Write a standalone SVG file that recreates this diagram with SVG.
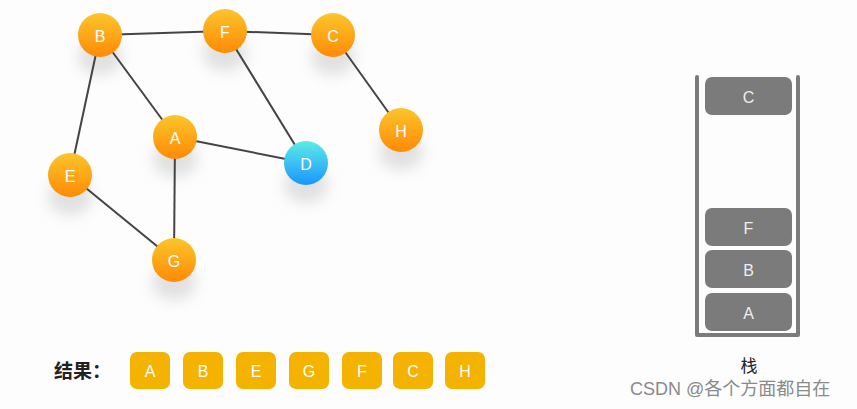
<svg xmlns="http://www.w3.org/2000/svg" width="857" height="409" viewBox="0 0 857 409">
<style>
.edge{stroke:#444;stroke-width:2;fill:none}
.nl{font-family:"Liberation Sans",Arial,sans-serif;font-size:16px;fill:#fff;text-anchor:middle;dominant-baseline:central}
.sb{fill:#7b7b7b}
.st{font-family:"Liberation Sans",Arial,sans-serif;font-size:16px;fill:#eee;text-anchor:middle;dominant-baseline:central}
.rb{fill:#F4B300}
.rt{font-family:"Liberation Sans",Arial,sans-serif;font-size:16px;fill:#fff;text-anchor:middle;dominant-baseline:central}
.cjk{font-family:"Noto Sans CJK SC",sans-serif}
</style>
<defs>
<linearGradient id="og" x1="0" y1="0" x2="0" y2="1">
<stop offset="0" stop-color="#FBC52B"/>
<stop offset="1" stop-color="#FF8A05"/>
</linearGradient>
<linearGradient id="bg" x1="0" y1="0" x2="0" y2="1">
<stop offset="0" stop-color="#5DEBE6"/>
<stop offset="1" stop-color="#1A96FF"/>
</linearGradient>
<filter id="sh" x="-100%" y="-100%" width="300%" height="300%">
<feGaussianBlur stdDeviation="7"/>
</filter>
<g id="shadow"><ellipse cx="0" cy="22" rx="22" ry="18" fill="#c4c4c4" opacity="0.5" filter="url(#sh)"/></g>
</defs>
<rect width="857" height="409" fill="#FDFDFD"/>
<g id="shadows">
<use href="#shadow" x="100" y="35"/>
<use href="#shadow" x="225" y="31"/>
<use href="#shadow" x="333" y="35"/>
<use href="#shadow" x="401" y="130"/>
<use href="#shadow" x="175" y="137"/>
<use href="#shadow" x="306" y="163"/>
<use href="#shadow" x="70" y="175"/>
<use href="#shadow" x="174" y="260"/>
</g>
<g id="connectors">
<line class="edge" x1="100" y1="35" x2="225" y2="31"/>
<line class="edge" x1="225" y1="31" x2="333" y2="35"/>
<line class="edge" x1="333" y1="35" x2="401" y2="130"/>
<line class="edge" x1="100" y1="35" x2="175" y2="137"/>
<line class="edge" x1="100" y1="35" x2="70" y2="175"/>
<line class="edge" x1="225" y1="31" x2="306" y2="163"/>
<line class="edge" x1="175" y1="137" x2="306" y2="163"/>
<line class="edge" x1="175" y1="137" x2="174" y2="260"/>
<line class="edge" x1="70" y1="175" x2="174" y2="260"/>
</g>
<g id="node-B"><circle cx="100" cy="35" r="22" fill="url(#og)"/><text class="nl" x="100" y="36">B</text></g>
<g id="node-F"><circle cx="225" cy="31" r="22" fill="url(#og)"/><text class="nl" x="225" y="32">F</text></g>
<g id="node-C"><circle cx="333" cy="35" r="22" fill="url(#og)"/><text class="nl" x="333" y="36">C</text></g>
<g id="node-H"><circle cx="401" cy="130" r="22" fill="url(#og)"/><text class="nl" x="401" y="131">H</text></g>
<g id="node-A"><circle cx="175" cy="137" r="22" fill="url(#og)"/><text class="nl" x="175" y="138">A</text></g>
<g id="node-D"><circle cx="306" cy="163" r="22" fill="url(#bg)"/><text class="nl" x="306" y="164">D</text></g>
<g id="node-E"><circle cx="70" cy="175" r="22" fill="url(#og)"/><text class="nl" x="70" y="176">E</text></g>
<g id="node-G"><circle cx="174" cy="260" r="22" fill="url(#og)"/><text class="nl" x="174" y="261">G</text></g>
<g id="stack">
<path d="M697 77 V335 H798 V77" fill="none" stroke="#7b7b7b" stroke-width="4" stroke-linecap="round" stroke-linejoin="round"/>
<rect class="sb" x="705" y="77" width="87" height="38" rx="7"/><text class="st" x="748.5" y="97">C</text>
<rect class="sb" x="705" y="208" width="87" height="38" rx="7"/><text class="st" x="748.5" y="228">F</text>
<rect class="sb" x="705" y="250" width="87" height="38" rx="7"/><text class="st" x="748.5" y="270">B</text>
<rect class="sb" x="705" y="293" width="87" height="38" rx="7"/><text class="st" x="748.5" y="313">A</text>
<text class="cjk" x="749" y="372" font-size="17" fill="#222" text-anchor="middle">栈</text>
</g>
<g id="result">
<text class="cjk" x="54" y="378" font-size="19" font-weight="bold" fill="#222">结果：</text>
<rect class="rb" x="130" y="352" width="40" height="37" rx="7"/><text class="rt" x="150" y="371">A</text>
<rect class="rb" x="183" y="352" width="40" height="37" rx="7"/><text class="rt" x="203" y="371">B</text>
<rect class="rb" x="236" y="352" width="40" height="37" rx="7"/><text class="rt" x="256" y="371">E</text>
<rect class="rb" x="289" y="352" width="40" height="37" rx="7"/><text class="rt" x="309" y="371">G</text>
<rect class="rb" x="342" y="352" width="40" height="37" rx="7"/><text class="rt" x="362" y="371">F</text>
<rect class="rb" x="393" y="352" width="40" height="37" rx="7"/><text class="rt" x="413" y="371">C</text>
<rect class="rb" x="445" y="352" width="40" height="37" rx="7"/><text class="rt" x="465" y="371">H</text>
</g>
<text x="630" y="395" font-family="'Liberation Sans','Noto Sans CJK SC',sans-serif" font-size="18" fill="#8a8a8a">CSDN @各个方面都自在</text>
</svg>
